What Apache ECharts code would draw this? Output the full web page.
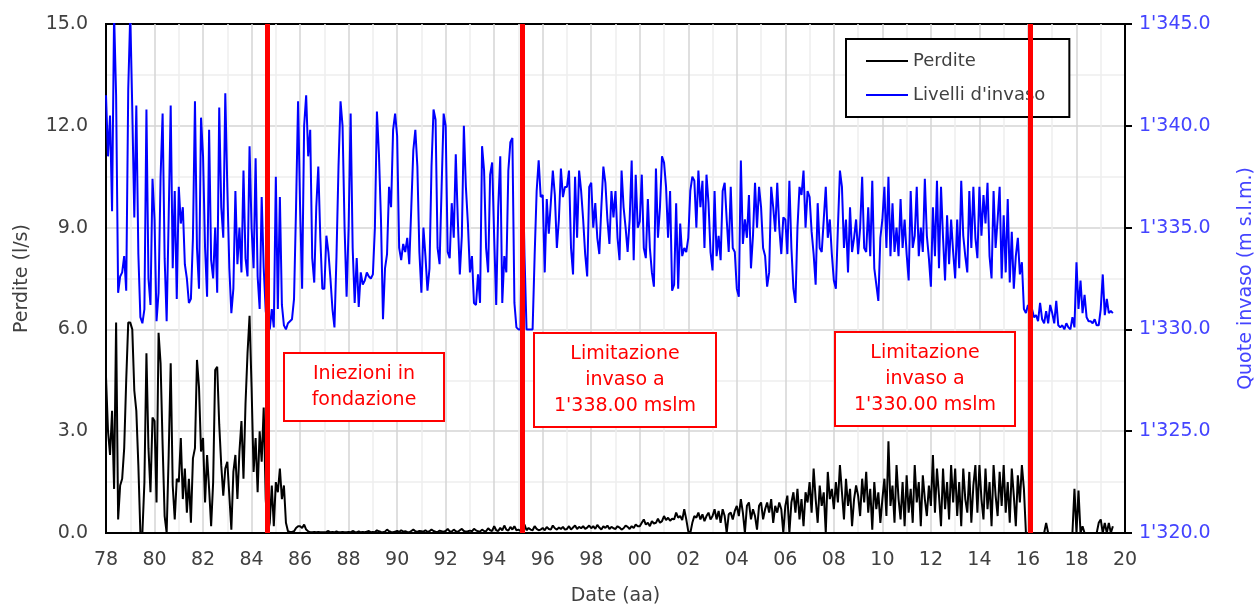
<!DOCTYPE html>
<html>
<head>
<meta charset="utf-8">
<script src="https://cdn.jsdelivr.net/npm/echarts@6/dist/echarts.min.js"></script>
<style>
  html, body { margin: 0; padding: 0; background: #fff; }
  #main { width: 1258px; height: 607px; }
</style>
</head>
<body>
<div id="main"></div>
<script>
// dati mensili a partire da gennaio 1978
var startYear = 1978;
// Perdite (l/s)
var perdite = [
  4.6, 3.0, 2.3, 3.6, 1.3, 6.2, 0.4, 1.4, 1.6, 2.5, 4.5, 6.2,
  6.2, 6.0, 4.2, 3.6, 2.0, 0.0, 0.0, 1.5, 5.3, 2.5, 1.2, 3.4,
  3.3, 0.9, 5.9, 5.0, 2.6, 0.5, 0.0, 2.3, 5.0, 1.4, 0.4, 1.6,
  1.5, 2.8, 1.0, 1.9, 0.6, 1.6, 0.3, 2.2, 2.5, 5.1, 4.3, 2.4,
  2.8, 0.9, 2.3, 1.3, 0.2, 1.5, 4.8, 4.9, 3.2, 2.0, 1.1, 1.9,
  2.1, 1.1, 0.1, 1.8, 2.3, 1.0, 2.4, 3.3, 1.6, 3.8, 5.3, 6.4,
  4.3, 1.8, 2.8, 1.2, 3.0, 2.1, 3.7, 1.0, 0.0, 0.3, 1.4, 0.2,
  1.5, 1.2, 1.9, 1.0, 1.4, 0.3, 0.05, 0.03, 0.03, 0.05, 0.15, 0.2,
  0.2, 0.15, 0.25, 0.1, 0.05, 0.02, 0.02, 0.03, 0.02, 0.03, 0.02, 0.02,
  0.02, 0.03, 0.06, 0.02, 0.03, 0.02, 0.05, 0.02, 0.02, 0.03, 0.02, 0.02,
  0.03, 0.02, 0.06, 0.03, 0.02, 0.05, 0.02, 0.03, 0.02, 0.04, 0.06, 0.02,
  0.03, 0.02, 0.08, 0.05, 0.03, 0.02, 0.04, 0.10, 0.05, 0.03, 0.02, 0.04,
  0.06, 0.03, 0.08, 0.04, 0.05, 0.03, 0.02, 0.06, 0.10, 0.05, 0.03, 0.06,
  0.05, 0.04, 0.08, 0.03, 0.05, 0.10, 0.06, 0.04, 0.03, 0.07, 0.05, 0.04,
  0.06, 0.12, 0.05, 0.04, 0.10, 0.05, 0.03, 0.08, 0.12, 0.06, 0.04, 0.05,
  0.07, 0.05, 0.12, 0.08, 0.05, 0.04, 0.10, 0.06, 0.05, 0.14, 0.08, 0.06,
  0.20, 0.08, 0.06, 0.15, 0.08, 0.22, 0.10, 0.07, 0.18, 0.10, 0.20, 0.08,
  0.10, 0.06, 0.20, 0.25, 0.08, 0.15, 0.10, 0.08, 0.20, 0.12, 0.08, 0.10,
  0.15, 0.08, 0.18, 0.12, 0.10, 0.22, 0.14, 0.10, 0.16, 0.12, 0.18, 0.10,
  0.12, 0.20, 0.10, 0.16, 0.22, 0.12, 0.18, 0.14, 0.20, 0.12, 0.16, 0.22,
  0.14, 0.20, 0.12, 0.24, 0.16, 0.10, 0.20, 0.15, 0.22, 0.12, 0.18, 0.14,
  0.12, 0.20, 0.16, 0.10, 0.14, 0.22, 0.18, 0.12, 0.20, 0.15, 0.25, 0.20,
  0.20, 0.30, 0.40, 0.25, 0.30, 0.20, 0.35, 0.28, 0.30, 0.42, 0.30, 0.35,
  0.50, 0.38, 0.45, 0.36, 0.42, 0.40, 0.60, 0.45, 0.50, 0.38, 0.70, 0.40,
  0.05, 0.00, 0.30, 0.50, 0.45, 0.60, 0.40, 0.55, 0.35, 0.50, 0.60, 0.40,
  0.50, 0.70, 0.40, 0.65, 0.30, 0.70, 0.50, 0.00, 0.55, 0.60, 0.40, 0.65,
  0.80, 0.50, 1.00, 0.60, 0.00, 0.80, 0.90, 0.40, 0.70, 0.50, 0.10, 0.80,
  0.90, 0.40, 0.70, 0.90, 0.60, 1.00, 0.30, 0.80, 0.60, 0.90, 0.70, 0.00,
  0.80, 1.10, 0.00, 0.90, 1.20, 0.60, 1.30, 0.40, 1.00, 0.20, 1.20, 0.90,
  1.50, 0.60, 1.90, 1.00, 0.30, 1.40, 0.80, 1.20, 0.00, 1.80, 1.00, 1.30,
  0.70, 1.50, 0.90, 2.00, 1.20, 0.40, 1.60, 0.80, 1.30, 0.20, 1.00, 1.40,
  1.10, 0.50, 1.60, 0.90, 1.80, 0.60, 1.30, 0.10, 1.50, 0.70, 1.20, 0.30,
  1.00, 1.60, 0.50, 2.70, 0.80, 1.40, 0.30, 2.00, 1.00, 0.40, 1.50, 0.20,
  1.70, 0.60, 1.30, 0.30, 2.00, 0.90, 1.50, 0.20, 1.70, 1.00, 0.50, 1.40,
  0.80, 2.30, 0.60, 1.90, 1.10, 0.20, 1.90, 0.70, 1.50, 0.40, 2.00, 0.90,
  1.90, 0.50, 1.50, 0.20, 1.90, 1.00, 0.60, 1.80, 0.30, 1.40, 2.00, 0.60,
  2.00, 1.00, 0.40, 1.90, 0.70, 1.50, 0.20, 2.00, 1.10, 0.50, 1.80, 0.80,
  2.00, 0.60, 1.50, 0.30, 1.90, 1.10, 0.20, 1.70, 0.90, 2.00, 1.30, 0.00,
  0, 0, 0, 0, 0, 0, 0, 0, 0, 0.3, 0, 0,
  0, 0, 0, 0, 0, 0, 0, 0, 0, 0, 0, 1.3,
  0, 1.25, 0, 0.2, 0, 0, 0, 0, 0, 0, 0, 0.3,
  0.4, 0, 0.3, 0, 0.3, 0, 0.2
];
// Livelli d'invaso (m s.l.m.)
var livelli = [
  1341.5, 1338.5, 1340.5, 1335.8, 1345.5, 1341.5, 1331.8, 1332.6, 1332.8, 1333.6, 1331.9, 1341.8,
  1345.5, 1340.8, 1335.5, 1341.0, 1333.7, 1330.6, 1330.3, 1331.0, 1340.8, 1332.5, 1331.2, 1337.4,
  1335.4, 1330.4, 1331.8, 1337.5, 1340.6, 1333.5, 1330.4, 1335.5, 1341.0, 1333.0, 1336.8, 1331.5,
  1337.0, 1335.2, 1336.0, 1333.2, 1332.5, 1331.3, 1331.5, 1334.5, 1341.2, 1334.0, 1332.0, 1340.4,
  1338.5, 1334.0, 1331.6, 1339.8, 1333.4, 1332.5, 1335.0, 1331.8, 1340.9, 1336.0, 1334.5, 1341.6,
  1337.0, 1333.0, 1330.8, 1332.0, 1336.8, 1333.2, 1335.0, 1332.8, 1337.8, 1333.5, 1332.6, 1339.0,
  1335.0, 1333.0, 1338.4, 1332.6, 1331.0, 1336.5, 1333.0, 1330.9, 1330.2, 1330.0, 1331.0, 1330.1,
  1337.5, 1331.0, 1336.5, 1331.2, 1330.2, 1330.0, 1330.3, 1330.4, 1330.5, 1331.5, 1336.0, 1341.2,
  1336.0, 1332.0, 1340.0, 1341.5, 1338.5, 1339.8, 1333.5, 1332.3, 1336.0, 1338.0, 1334.5, 1332.0,
  1332.0, 1334.6, 1333.8, 1332.5, 1331.0, 1330.1, 1333.6, 1338.0, 1341.2, 1340.0, 1335.0, 1331.6,
  1335.0, 1340.6, 1334.0, 1331.3, 1333.5, 1331.1, 1332.8, 1332.2, 1332.4, 1332.8, 1332.6, 1332.5,
  1332.7, 1335.0, 1340.7, 1338.6, 1335.4, 1330.5, 1333.0, 1333.7, 1337.0, 1336.0, 1339.8, 1340.6,
  1339.5, 1334.0, 1333.4, 1334.2, 1333.8, 1334.5, 1333.2, 1336.0, 1338.8, 1339.8, 1338.0, 1333.8,
  1331.8, 1335.0, 1333.6, 1331.9, 1333.0, 1338.0, 1340.8, 1340.3, 1334.0, 1333.2, 1337.0, 1340.6,
  1340.0, 1333.8, 1333.5, 1336.2, 1334.5, 1338.6, 1335.4, 1332.7, 1334.6, 1340.0, 1337.0, 1335.2,
  1332.8, 1333.6, 1331.3, 1331.2, 1332.7, 1331.3, 1339.0, 1337.8, 1334.0, 1332.8, 1337.6, 1338.2,
  1334.5, 1331.2, 1336.0, 1338.5, 1331.3, 1333.6, 1332.8, 1337.8, 1339.2, 1339.4, 1331.3, 1330.1,
  1330.0, 1330.0, 1338.6, 1333.6, 1330.0, 1330.0, 1330.0, 1330.0, 1333.6, 1336.8, 1338.3, 1336.5,
  1336.6, 1332.8, 1336.4, 1334.7, 1336.2, 1337.8, 1336.6, 1334.0, 1335.4, 1337.9, 1336.5, 1337.0,
  1337.0, 1337.8, 1334.0, 1332.7, 1337.5, 1334.5, 1337.8, 1336.8, 1335.4, 1333.7, 1332.6, 1337.0,
  1337.2, 1335.0, 1336.2, 1334.5, 1333.7, 1336.0, 1338.0, 1337.2, 1335.4, 1334.2, 1336.8, 1335.5,
  1336.8, 1334.5, 1333.4, 1337.8, 1336.0, 1335.0, 1333.8, 1335.4, 1338.3, 1333.4, 1337.6, 1335.0,
  1335.3, 1337.6, 1334.0, 1333.5, 1336.4, 1334.0, 1332.8, 1332.1, 1337.9, 1334.5, 1336.0, 1338.5,
  1338.2, 1337.0, 1334.5, 1336.8, 1331.9, 1332.2, 1336.2, 1332.0, 1335.2, 1333.6, 1334.0, 1333.8,
  1334.5, 1336.8, 1337.5, 1337.3, 1335.0, 1337.8, 1336.0, 1337.3, 1334.0, 1337.6, 1336.2, 1333.8,
  1332.9, 1336.8, 1333.6, 1334.6, 1333.4, 1336.8, 1337.2, 1335.4, 1333.8, 1337.0, 1334.0, 1333.8,
  1332.0, 1331.6, 1338.3, 1334.2, 1335.4, 1334.5, 1336.6, 1333.0, 1334.6, 1337.2, 1335.0, 1337.0,
  1336.0, 1334.0, 1333.6, 1332.1, 1332.8, 1337.0, 1336.0, 1334.8, 1337.2, 1335.0, 1333.7, 1335.5,
  1335.4, 1333.7, 1337.3, 1334.0, 1332.0, 1331.3, 1335.0, 1337.0, 1336.6, 1337.8, 1335.0, 1336.8,
  1336.5, 1334.8, 1333.7, 1332.2, 1336.2, 1334.0, 1333.8, 1335.4, 1337.0, 1334.5, 1335.4, 1333.7,
  1332.4, 1332.0, 1335.0, 1337.8, 1337.0, 1334.0, 1335.4, 1332.8, 1336.0, 1333.8, 1334.5, 1335.4,
  1333.7, 1335.0, 1337.5, 1334.0, 1333.8, 1336.0, 1333.6, 1337.3, 1333.0, 1332.2, 1331.4, 1334.5,
  1335.4, 1337.0, 1334.0, 1337.5, 1333.6, 1336.2, 1333.8, 1335.0, 1333.6, 1336.4, 1334.0, 1335.4,
  1333.7, 1332.4, 1336.8, 1334.0, 1334.6, 1337.0, 1333.6, 1335.0, 1333.8, 1337.4, 1334.6, 1333.5,
  1332.1, 1336.0, 1333.6, 1337.3, 1333.0, 1337.0, 1334.5, 1332.4, 1335.6, 1333.2, 1335.4, 1333.8,
  1332.5, 1335.4, 1333.0, 1337.3, 1334.6, 1333.6, 1332.8, 1336.8, 1334.0, 1337.0, 1334.5, 1333.5,
  1337.0, 1334.6, 1336.6, 1335.2, 1337.2, 1333.6, 1332.5, 1336.8, 1334.0, 1335.4, 1337.0, 1332.5,
  1335.6, 1332.8, 1336.4, 1332.3, 1334.8, 1332.0, 1333.6, 1334.5, 1332.7, 1333.3, 1331.0, 1330.8,
  1331.2, 1330.9, 1331.0, 1330.6, 1330.7, 1330.4, 1331.3, 1330.5, 1330.3, 1330.9, 1330.3, 1331.2,
  1330.8, 1330.3, 1331.4, 1330.2, 1330.1, 1330.2, 1330.0, 1330.3, 1330.1, 1330.0, 1330.6, 1330.1,
  1333.3, 1331.0, 1332.4, 1330.8, 1331.7, 1330.6, 1330.4, 1330.4, 1330.3, 1330.5, 1330.2, 1330.2,
  1331.0, 1332.7, 1330.7, 1331.5, 1330.8, 1330.9, 1330.8
];
// interventi (linee rosse)
var eventi = [1984.65, 1995.15, 2016.08];
var noteTesti = ['Iniezioni in\nfondazione', 'Limitazione\ninvaso a\n1\'338.00 mslm', 'Limitazione\ninvaso a\n1\'330.00 mslm'];

var FONT = 'DejaVu Sans';
var GRIGIO = '#404040';

function toSeries(arr) {
    var out = [];
    for (var i = 0; i < arr.length; i++) {
        out.push([startYear + i / 12, arr[i]]);
    }
    return out;
}

// riquadri delle note
var boxes = [
    { x: 284, y: 353, w: 160, h: 68 },
    { x: 534, y: 333, w: 182, h: 94 },
    { x: 835, y: 332, w: 180, h: 94 }
];
var graphics = [];
for (var k = 0; k < boxes.length; k++) {
    var b = boxes[k];
    graphics.push({
        type: 'rect', z: 3,
        shape: { x: b.x, y: b.y, width: b.w, height: b.h },
        style: { fill: '#fff', stroke: '#ff0000', lineWidth: 2 }
    });
    graphics.push({
        type: 'text', z: 4,
        x: b.x + b.w / 2, y: b.y + b.h / 2,
        style: {
            text: noteTesti[k], fill: '#ff0000',
            font: '19px "' + FONT + '"', lineHeight: 26,
            align: 'center', verticalAlign: 'middle'
        }
    });
}

var myChart = echarts.init(document.getElementById('main'), null, { renderer: 'canvas' });
var option = {
    backgroundColor: '#fff',
    animation: false,
    textStyle: { fontFamily: FONT },
    grid: {
        left: 106, right: 133, top: 24, bottom: 74,
        outerBoundsMode: 'none',
        show: true, borderColor: '#000', borderWidth: 2
    },
    legend: {
        orient: 'vertical',
        left: 846, top: 39,
        padding: [13, 24, 13, 20],
        itemGap: 16,
        icon: 'rect',
        itemWidth: 42, itemHeight: 2,
        backgroundColor: '#fff',
        borderColor: '#000', borderWidth: 2,
        textStyle: { color: GRIGIO, fontSize: 18, fontFamily: FONT },
        data: ['Perdite', 'Livelli d\'invaso']
    },
    xAxis: {
        type: 'value',
        min: 1978, max: 2020, interval: 2,
        name: 'Date (aa)', nameLocation: 'middle', nameGap: 54,
        nameTextStyle: { color: GRIGIO, fontSize: 19, fontFamily: FONT },
        axisLine: { lineStyle: { color: '#000', width: 2 } },
        axisTick: { show: false },
        axisLabel: {
            color: GRIGIO, fontSize: 19, margin: 18,
            formatter: function (v) { return String(v).slice(2); }
        },
        splitLine: { show: true, showMinLine: false, showMaxLine: false, lineStyle: { color: '#d4d4d4', width: 1.5 } },
        minorTick: { show: false, splitNumber: 2 },
        minorSplitLine: { show: true, lineStyle: { color: '#eeeeee', width: 1.5 } }
    },
    yAxis: [{
        type: 'value',
        min: 0, max: 15, interval: 3,
        name: 'Perdite (l/s)', nameLocation: 'middle', nameGap: 74, nameRotate: 90,
        nameTextStyle: { color: GRIGIO, fontSize: 19, fontFamily: FONT },
        axisLine: { show: true, lineStyle: { color: '#000', width: 2 } },
        axisTick: { show: false },
        axisLabel: {
            color: GRIGIO, fontSize: 19, margin: 18,
            formatter: function (v) { return v.toFixed(1); }
        },
        splitLine: { show: true, showMinLine: false, showMaxLine: false, lineStyle: { color: '#d4d4d4', width: 1.5 } },
        minorTick: { show: false, splitNumber: 2 },
        minorSplitLine: { show: true, lineStyle: { color: '#eeeeee', width: 1.5 } }
    }, {
        type: 'value',
        min: 1320, max: 1345, interval: 5,
        position: 'right',
        name: 'Quote invaso (m s.l.m.)', nameLocation: 'middle', nameGap: 112, nameRotate: 90,
        nameTextStyle: { color: '#4444ff', fontSize: 19, fontFamily: FONT },
        axisLine: { show: true, lineStyle: { color: '#000', width: 2 } },
        axisTick: { show: true, length: 7, lineStyle: { color: '#000', width: 2 } },
        axisLabel: {
            color: '#4444ff', fontSize: 19, margin: 14,
            formatter: function (v) {
                var r = String(v % 1000);
                while (r.length < 3) r = '0' + r;
                return Math.floor(v / 1000) + '\'' + r + '.0';
            }
        },
        splitLine: { show: false }
    }],
    series: [{
        name: 'Perdite',
        type: 'line',
        yAxisIndex: 0,
        symbol: 'none',
        lineStyle: { color: '#000', width: 2 },
        itemStyle: { color: '#000' },
        data: toSeries(perdite),
        markLine: {
            silent: true,
            symbol: 'none',
            label: { show: false },
            lineStyle: { color: '#ff0000', width: 5, type: 'solid' },
            data: eventi.map(function (x) { return { xAxis: x }; })
        }
    }, {
        name: 'Livelli d\'invaso',
        type: 'line',
        yAxisIndex: 1,
        symbol: 'none',
        lineStyle: { color: '#0000ff', width: 2 },
        itemStyle: { color: '#0000ff' },
        data: toSeries(livelli)
    }],
    graphic: graphics
};
myChart.setOption(option);
</script>
</body>
</html>
